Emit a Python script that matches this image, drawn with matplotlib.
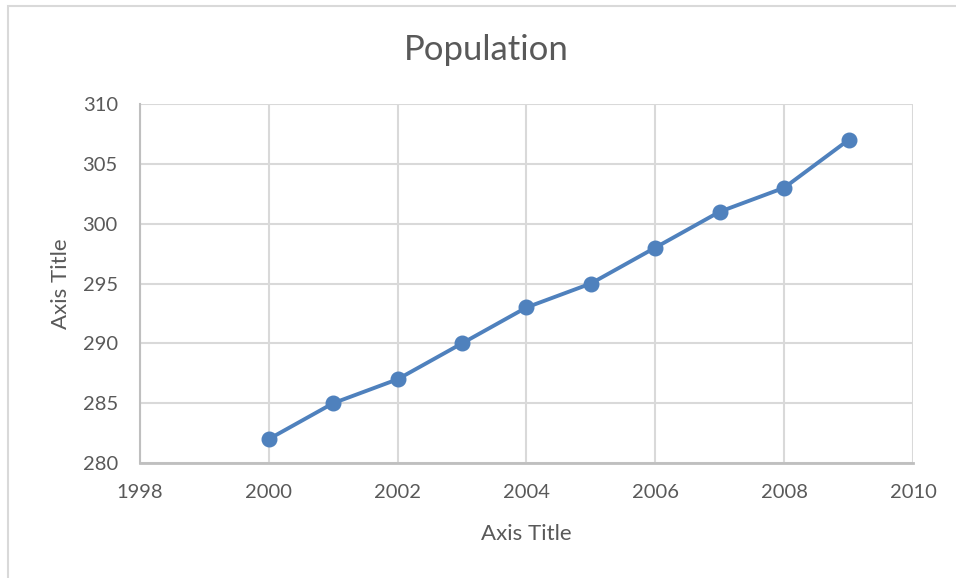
import matplotlib.pyplot as plt
from matplotlib.patches import Rectangle

# Population by year
years = [2000, 2001, 2002, 2003, 2004, 2005, 2006, 2007, 2008, 2009]
population = [282, 285, 287, 290, 293, 295, 298, 301, 303, 307]

x_ticks = [1998, 2000, 2002, 2004, 2006, 2008, 2010]
y_ticks = [280, 285, 290, 295, 300, 305, 310]

plt.rcParams['font.family'] = ['Lato', 'DejaVu Sans']
text_color = '#595959'
grid_color = '#d9d9d9'
axis_color = '#bfbfbf'
line_color = '#4f81bd'

fig = plt.figure(figsize=(9.56, 5.78), dpi=100)
ax = fig.add_axes([140/956, 1 - 463/578, (913 - 140)/956, (463 - 104)/578])

# outer chart border (runs off the right and bottom edges)
fig.patches.append(Rectangle((8/956, -0.1), 1.2, 1.1 - 6/578, transform=fig.transFigure,
                             fill=False, edgecolor='#d9d9d9', linewidth=1.5))

ax.plot(years, population, color=line_color, linewidth=2.8,
        marker='o', markersize=10.5, zorder=3)

ax.set_xlim(1998, 2010)
ax.set_ylim(280, 310)
ax.set_xticks(x_ticks)
ax.set_yticks(y_ticks)
ax.grid(True, color=grid_color, linewidth=1.5)
ax.set_axisbelow(True)

for side in ['top', 'right']:
    ax.spines[side].set_visible(False)
ax.spines['left'].set_color(axis_color)
ax.spines['left'].set_linewidth(1.5)
ax.spines['bottom'].set_color(axis_color)
ax.spines['bottom'].set_linewidth(2)

ax.tick_params(length=0, labelsize=14.5, labelcolor=text_color)
ax.tick_params(axis='x', pad=15)
ax.tick_params(axis='y', pad=16)

fig.text(486/956, 1 - 50/578, 'Population', ha='center', va='center',
         fontsize=25, color=text_color)
ax.set_xlabel('Axis Title', fontsize=16, color=text_color, labelpad=17)
ax.set_ylabel('Axis Title', fontsize=16, color=text_color, labelpad=8)

plt.savefig('out.png', dpi=100)
